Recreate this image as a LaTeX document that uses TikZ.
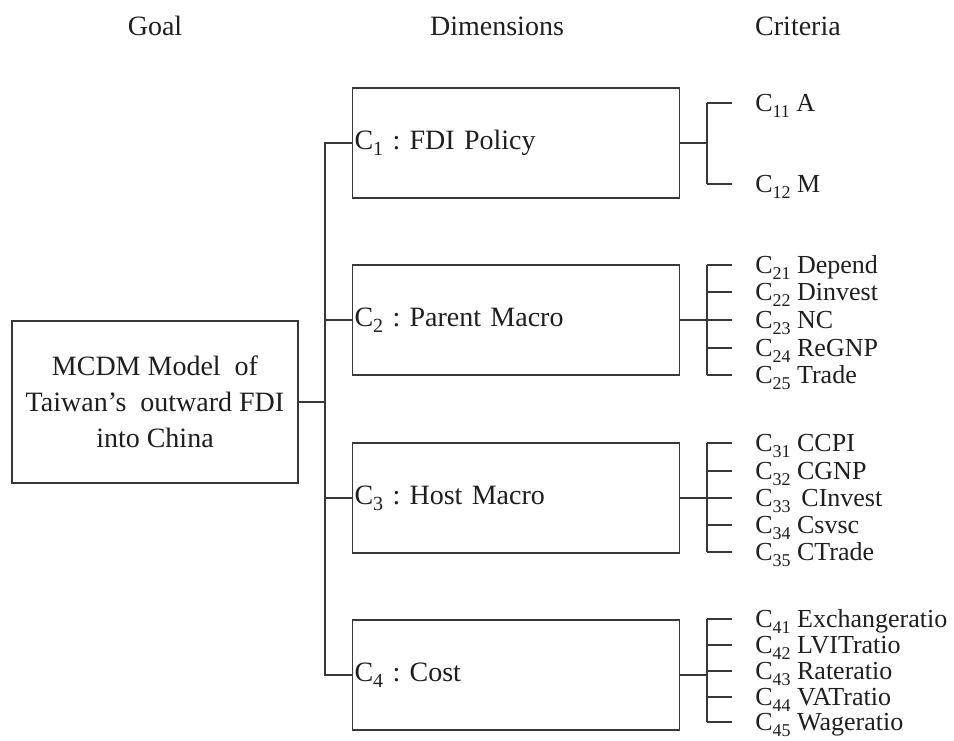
\documentclass[tikz,border=0pt]{standalone}
\usepackage{fontspec}
\setmainfont{Liberation Serif}
\usetikzlibrary{calc}
\frenchspacing
\newcommand\dsub[1]{\raisebox{-4.5pt}{\fontsize{15pt}{15pt}\selectfont #1}}
\newcommand\csub[1]{\raisebox{-4.2pt}{\fontsize{13.5pt}{13.5pt}\selectfont #1}}
\begin{document}
\begin{tikzpicture}[x=0.75pt,y=-0.75pt,
  every node/.style={text=black!88},
  line/.style={draw=black!78,line width=1.2pt},
  head/.style={font=\fontsize{21pt}{25pt}\selectfont,anchor=base,inner sep=0pt},
  goalbox/.style={line,minimum width=214.5pt,minimum height=121.5pt,align=center,
    font=\fontsize{21pt}{27pt}\selectfont,inner sep=0pt},
  dimbox/.style={line,minimum width=245.25pt,minimum height=82.5pt,inner xsep=1.5pt,
    text width=242.25pt,align=left,font=\fontsize{21pt}{25pt}\selectfont},
  crit/.style={anchor=west,inner sep=0pt,text height=12.9pt,text depth=0pt,
    font=\fontsize{19.5pt}{22pt}\selectfont}
]
\useasboundingbox (0,0) rectangle (954,740);
\fill[white] (0,0) rectangle (954,740);

% headings
\node[head] (hg) at (155,35) {Goal};
\node[head] (hd) at (497,35) {Dimensions};
\node[head] (hc) at (798,35) {Criteria};

% goal
\node[goalbox] (g) at (155,402) {MCDM Model\ \ of\\Taiwan’s\ \ outward FDI\\into China};

% dimensions
\node[dimbox] (d1) at (516,143) {C\dsub{1} : FDI Policy};
\node[dimbox] (d2) at (516,320) {C\dsub{2} : Parent Macro};
\node[dimbox] (d3) at (516,498) {C\dsub{3} : Host Macro};
\node[dimbox] (d4) at (516,675) {C\dsub{4} : Cost};

% trunk
\coordinate (j) at (325,402);
\draw[line] (g.east) -- (j);
\draw[line] (d1.west) -| (j) |- (d4.west);
\draw[line] (d2.west) -- (j |- d2.west);
\draw[line] (d3.west) -- (j |- d3.west);

% criteria
\node[crit] (c11) at (755,103) {C\csub{11} A};
\node[crit] (c12) at (755,184) {C\csub{12} M};

\node[crit] (c21) at (755,265) {C\csub{21} Depend};
\node[crit] (c22) at (755,292) {C\csub{22} Dinvest};
\node[crit] (c23) at (755,320) {C\csub{23} NC};
\node[crit] (c24) at (755,348) {C\csub{24} ReGNP};
\node[crit] (c25) at (755,375) {C\csub{25} Trade};

\node[crit] (c31) at (755,443) {C\csub{31} CCPI};
\node[crit] (c32) at (755,471) {C\csub{32} CGNP};
\node[crit] (c33) at (755,498) {C\csub{33} \,CInvest};
\node[crit] (c34) at (755,525) {C\csub{34} Csvsc};
\node[crit] (c35) at (755,552) {C\csub{35} CTrade};

\node[crit] (c41) at (755,619) {C\csub{41} Exchangeratio};
\node[crit] (c42) at (755,645) {C\csub{42} LVITratio};
\node[crit] (c43) at (755,671) {C\csub{43} Rateratio};
\node[crit] (c44) at (755,697) {C\csub{44} VATratio};
\node[crit] (c45) at (755,722) {C\csub{45} Wageratio};

% brackets
\coordinate (b1) at (707,143);
\coordinate (b2) at (707,320);
\coordinate (b3) at (707,498);
\coordinate (b4) at (707,675);
\foreach \i in {1,2,3,4}{\draw[line] (d\i.east) -- (b\i);}
\draw[line] (b1 |- c11.west) -- (b1 |- c12.west);
\draw[line] (b2 |- c21.west) -- (b2 |- c25.west);
\draw[line] (b3 |- c31.west) -- (b3 |- c35.west);
\draw[line] (b4 |- c41.west) -- (b4 |- c45.west);
\foreach \c/\b in {11/1,12/1,21/2,22/2,23/2,24/2,25/2,31/3,32/3,33/3,34/3,35/3,41/4,42/4,43/4,44/4,45/4}{
  \draw[line] (b\b |- c\c.west) -- ($(c\c.west)+(-23,0)$);
}
\end{tikzpicture}
\end{document}
